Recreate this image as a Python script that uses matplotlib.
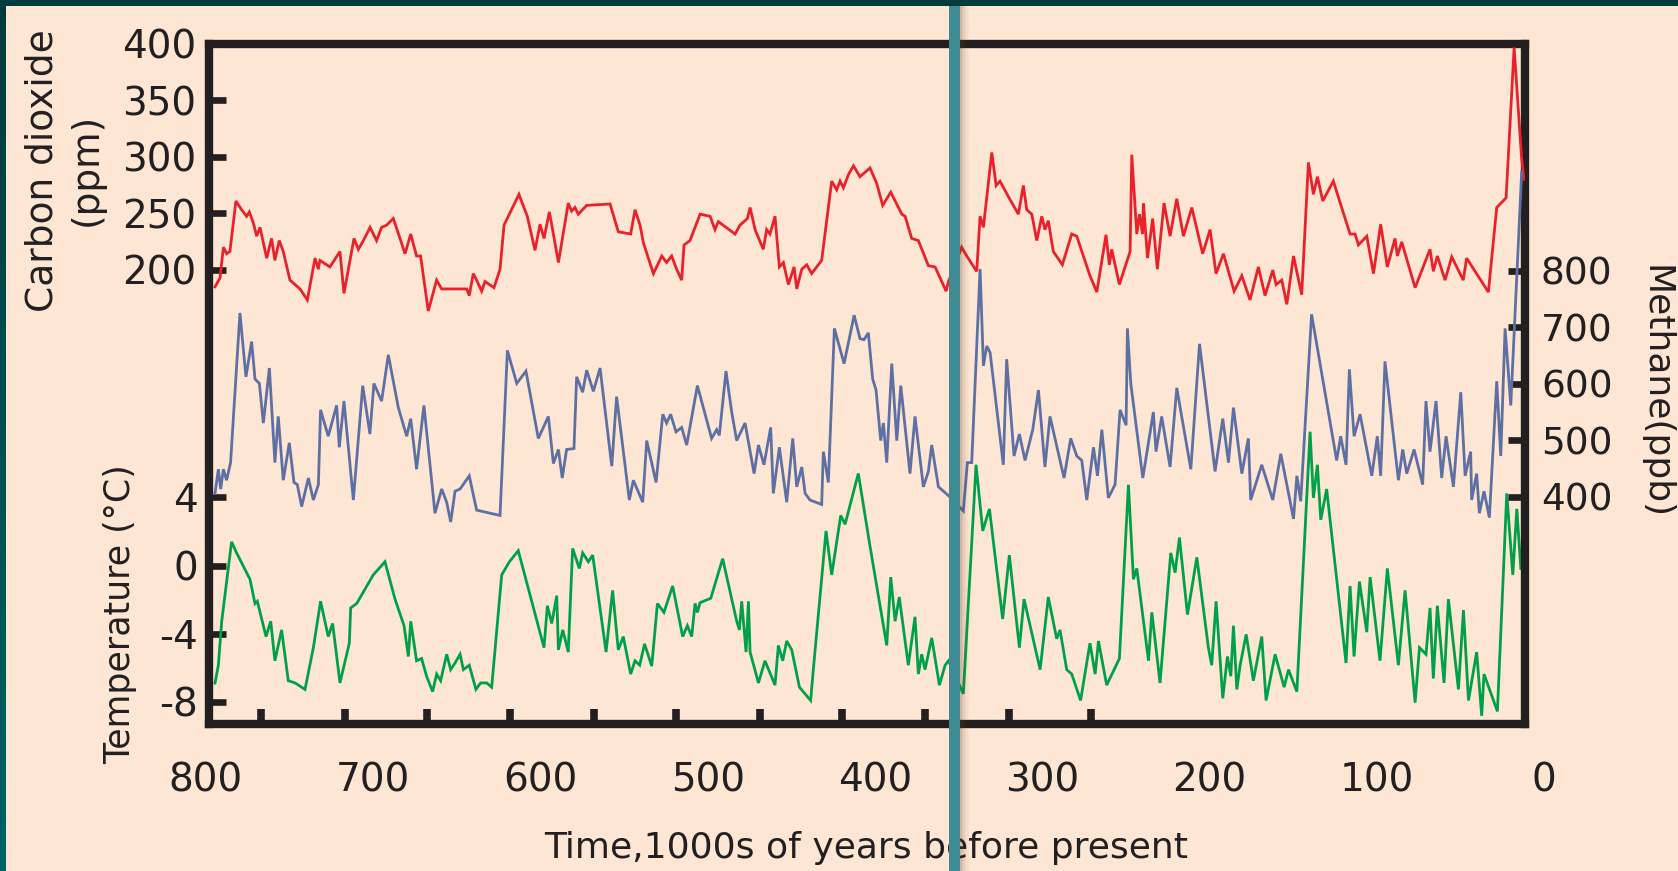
import matplotlib
matplotlib.use('Agg')
import matplotlib.pyplot as plt
from matplotlib.patches import Rectangle
from matplotlib.colors import LinearSegmentedColormap
import numpy as np

# ---------------- data ----------------
co2_age = [794.6, 791.6, 789.6, 787.7, 785.7, 782.1, 778.7, 775.7, 774.1, 771.7, 769.7, 767.7,
           763.7, 760.8, 758.8, 756.2, 753.8, 749.8, 743.8, 739.4, 734.8, 732.8, 731.9, 725.9,
           719.9, 717.5, 711.5, 708.9, 705.9, 701.9, 698.0, 695.0, 692.0, 688.0, 684.0, 681.0,
           677.6, 674.1, 671.7, 667.1, 662.1, 659.1, 644.1, 642.6, 640.2, 638.2, 635.2, 633.2,
           627.8, 624.2, 621.8, 612.9, 607.9, 603.3, 600.3, 597.9, 594.7, 592.3, 589.3, 583.4,
           581.4, 579.4, 577.4, 572.4, 558.4, 553.5, 546.1, 543.5, 540.5, 538.5, 532.5, 527.5,
           524.6, 521.6, 518.6, 515.6, 514.2, 510.6, 504.6, 498.6, 495.7, 493.7, 483.7, 480.7,
           476.3, 474.7, 471.7, 466.8, 464.8, 462.8, 459.8, 457.2, 454.8, 451.8, 448.4, 446.8,
           443.8, 440.8, 437.9, 431.9, 425.9, 422.9, 420.9, 418.9, 415.9, 412.9, 409.0, 403.0,
           399.0, 395.4, 390.6, 384.0, 382.0, 378.1, 374.1, 368.1, 364.1, 357.5, 356.1, 348.2,
           345.2, 339.2, 337.2, 335.2, 330.2, 327.6, 325.3, 320.3, 314.3, 311.3, 309.3, 306.3,
           303.3, 300.3, 298.4, 296.4, 293.4, 288.0, 282.4, 279.4, 271.5, 267.4, 261.9, 259.9,
           258.5, 253.9, 247.5, 246.5, 243.5, 241.9, 240.1, 239.5, 237.1, 234.0, 231.2, 227.2,
           223.6, 219.6, 215.6, 210.6, 204.1, 199.7, 196.1, 191.7, 185.3, 180.7, 175.8, 170.8,
           166.8, 162.2, 160.2, 156.8, 153.8, 149.8, 144.9, 140.9, 137.9, 135.5, 132.3, 126.0,
           116.0, 113.0, 111.0, 106.0, 102.0, 97.7, 93.7, 89.1, 87.7, 85.1, 77.1, 68.2,
           66.2, 63.8, 59.2, 55.2, 48.3, 46.3, 33.3, 28.3, 22.7, 17.9, 13.5, 12.0]
co2_ppm = [184.7, 192.5, 219.8, 214.0, 216.0, 260.8, 253.0, 247.2, 251.1, 241.3, 229.6, 237.4,
           210.1, 227.6, 208.1, 225.7, 216.0, 190.6, 182.8, 173.0, 210.1, 200.3, 208.1, 202.3,
           216.0, 178.9, 227.6, 217.9, 225.7, 237.4, 225.7, 237.4, 239.4, 245.2, 227.6, 214.0,
           231.5, 212.0, 212.0, 163.2, 190.6, 182.8, 182.8, 176.9, 196.4, 190.6, 180.8, 189.4,
           183.9, 200.3, 239.4, 266.7, 247.2, 217.1, 240.1, 227.6, 251.1, 231.5, 206.2, 258.9,
           251.8, 255.0, 249.1, 256.9, 258.1, 233.5, 231.5, 253.0, 239.4, 223.7, 196.4, 212.0,
           206.2, 212.0, 200.3, 190.6, 221.8, 225.7, 249.1, 247.2, 235.4, 242.5, 231.5, 239.4,
           245.2, 255.0, 235.4, 217.9, 235.4, 231.5, 247.2, 202.3, 206.2, 186.7, 202.3, 182.8,
           200.3, 204.2, 196.4, 208.1, 278.4, 270.6, 278.4, 272.5, 284.2, 292.0, 282.3, 290.1,
           276.4, 256.9, 268.6, 249.1, 247.2, 227.6, 225.7, 203.4, 202.3, 180.8, 189.4, 219.8,
           212.0, 198.4, 247.2, 237.4, 303.8, 274.5, 278.4, 264.7, 249.1, 274.5, 253.0, 249.1,
           225.7, 247.2, 235.4, 243.3, 216.0, 204.2, 231.5, 229.6, 194.5, 180.0, 230.8, 204.2,
           217.9, 186.7, 216.0, 301.8, 231.5, 249.1, 231.5, 258.9, 210.1, 245.2, 200.3, 258.9,
           229.6, 262.8, 229.6, 255.0, 214.0, 235.4, 196.4, 214.0, 180.8, 194.5, 173.0, 202.3,
           176.9, 199.5, 186.7, 190.6, 169.1, 212.0, 177.7, 295.0, 266.7, 282.3, 260.8, 278.4,
           231.5, 231.5, 221.8, 229.6, 196.4, 240.1, 202.3, 227.6, 212.0, 224.5, 183.9, 217.9,
           198.4, 212.0, 190.6, 211.2, 190.6, 210.1, 180.0, 255.0, 263.6, 397.0, 300.0, 280.0]

ch4_age = [794.6, 792.6, 791.2, 789.6, 787.7, 785.3, 779.7, 776.1, 772.7, 770.7, 768.1, 765.7,
           762.1, 758.8, 756.8, 753.8, 750.2, 747.4, 745.4, 742.8, 738.8, 735.8, 732.8, 731.5,
           726.9, 721.9, 720.3, 717.5, 711.9, 706.3, 702.0, 699.6, 695.0, 691.0, 685.0, 680.0,
           677.6, 674.1, 669.7, 663.1, 659.1, 656.1, 653.7, 651.1, 648.1, 642.6, 638.2, 624.2,
           619.8, 614.2, 608.7, 601.3, 595.3, 592.3, 589.3, 587.0, 584.4, 580.0, 578.4, 574.8,
           572.4, 568.4, 564.4, 557.4, 554.5, 546.9, 544.5, 538.9, 536.5, 530.9, 526.9, 524.6,
           522.2, 519.0, 515.6, 512.6, 506.2, 497.7, 494.7, 493.1, 489.1, 485.7, 482.7, 477.7,
           472.3, 469.7, 466.4, 462.4, 460.8, 457.2, 452.8, 449.2, 446.8, 443.8, 441.8, 438.9,
           431.9, 430.9, 427.9, 424.3, 418.5, 412.5, 409.0, 406.6, 404.0, 401.4, 399.4, 396.6,
           395.0, 393.0, 390.0, 387.0, 384.6, 379.1, 376.1, 371.1, 368.1, 366.1, 362.1, 356.1,
           347.2, 344.8, 342.2, 337.2, 335.2, 333.2, 331.2, 323.3, 321.3, 316.9, 313.7, 310.3,
           305.7, 302.3, 298.4, 295.4, 287.0, 283.0, 279.4, 276.4, 273.4, 269.4, 267.0, 264.4,
           260.5, 256.5, 253.5, 249.9, 249.1, 247.1, 239.9, 233.6, 232.0, 228.6, 223.6, 219.6,
           211.2, 206.0, 196.7, 192.1, 188.7, 185.7, 180.7, 176.8, 175.4, 168.8, 162.2, 157.4,
           149.8, 147.8, 145.5, 139.0, 124.0, 121.6, 118.4, 116.4, 113.6, 110.0, 103.0, 99.7,
           97.7, 95.1, 87.1, 84.5, 82.1, 77.7, 72.6, 70.6, 68.2, 64.6, 61.2, 58.6,
           54.2, 49.8, 47.2, 43.9, 43.3, 40.3, 38.7, 35.9, 32.7, 28.3, 25.9, 23.3,
           19.9, 13.4]
ch4_ppb = [405.6, 448.5, 413.4, 448.5, 429.0, 460.2, 725.3, 612.2, 674.6, 608.3, 600.5, 530.3,
           627.8, 460.2, 542.0, 429.0, 495.2, 425.1, 421.2, 382.2, 432.9, 393.9, 421.2, 553.7,
           507.0, 561.5, 487.4, 569.3, 393.9, 596.6, 510.8, 600.5, 569.3, 651.2, 557.6, 507.0,
           538.1, 448.5, 561.5, 370.5, 413.4, 390.0, 354.9, 409.5, 413.4, 436.8, 376.0, 366.6,
           659.0, 600.5, 622.3, 503.1, 542.0, 458.6, 483.5, 432.9, 483.5, 485.1, 612.2, 584.9,
           623.9, 586.5, 627.8, 453.9, 577.1, 393.9, 429.0, 390.0, 499.2, 425.1, 545.9, 530.3,
           545.9, 514.7, 522.5, 491.3, 596.6, 503.1, 518.6, 508.5, 622.3, 549.8, 499.2, 530.3,
           440.7, 491.3, 456.3, 522.5, 405.6, 487.4, 390.0, 503.1, 417.3, 452.4, 405.6, 393.9,
           386.1, 479.6, 425.1, 698.0, 635.6, 721.4, 680.0, 678.0, 690.0, 608.3, 588.8, 499.2,
           530.3, 460.2, 635.6, 499.2, 596.6, 440.7, 542.0, 417.3, 444.6, 491.3, 417.3, 401.7,
           374.4, 460.2, 460.2, 803.2, 631.7, 666.8, 655.1, 456.3, 643.4, 471.9, 510.8, 464.1,
           518.6, 588.8, 452.4, 542.0, 432.9, 503.1, 471.9, 464.1, 393.9, 487.4, 436.8, 518.6,
           397.8, 421.2, 553.7, 526.4, 698.0, 600.5, 432.9, 549.8, 479.6, 542.0, 452.4, 592.7,
           448.5, 670.7, 444.6, 538.1, 460.2, 557.6, 440.7, 503.1, 393.9, 456.3, 393.9, 475.8,
           360.5, 436.8, 391.6, 723.0, 464.1, 506.9, 456.3, 625.5, 506.9, 545.9, 436.8, 506.9,
           436.8, 639.5, 429.0, 483.5, 440.7, 483.5, 421.2, 569.3, 479.6, 569.3, 432.9, 506.9,
           417.3, 584.9, 436.8, 479.6, 393.9, 440.7, 370.5, 409.5, 362.7, 604.4, 471.9, 698.0,
           561.5, 975.0]

temp_age = [794.6, 792.6, 790.6, 784.7, 781.7, 777.7, 773.7, 770.7, 769.3, 764.1, 761.3, 758.8,
            754.8, 750.8, 746.8, 740.8, 735.8, 731.5, 726.9, 724.3, 719.9, 714.3, 713.5, 709.9,
            700.0, 693.0, 687.0, 681.6, 679.0, 677.6, 674.1, 671.1, 668.1, 664.5, 662.1, 659.7,
            656.1, 653.7, 651.1, 648.1, 646.1, 642.6, 638.6, 635.8, 632.2, 629.2, 623.2, 618.6,
            613.3, 597.9, 595.9, 593.3, 590.3, 589.3, 586.7, 583.4, 580.8, 576.8, 574.8, 571.4,
            568.8, 560.8, 556.9, 553.5, 550.5, 546.1, 543.5, 540.7, 537.8, 533.5, 530.1, 526.2,
            521.0, 515.0, 512.2, 509.6, 507.6, 506.2, 504.6, 498.2, 491.1, 482.7, 481.1, 479.7,
            477.1, 475.7, 474.7, 469.7, 465.8, 459.8, 457.8, 455.2, 452.8, 449.8, 445.2, 438.5,
            436.9, 429.3, 425.9, 420.5, 417.9, 410.0, 403.0, 393.0, 390.6, 388.0, 385.5, 380.1,
            376.1, 374.1, 372.1, 370.1, 366.1, 361.5, 358.1, 356.1, 347.2, 339.6, 335.6, 331.6,
            323.7, 319.7, 313.7, 310.9, 301.3, 296.4, 291.4, 289.4, 285.4, 282.4, 277.1, 271.5,
            268.4, 266.4, 261.5, 253.9, 248.5, 245.5, 243.5, 236.5, 234.5, 229.6, 223.2, 220.6,
            218.0, 213.2, 207.6, 200.7, 198.7, 196.1, 192.1, 189.3, 187.3, 185.7, 183.7, 181.7,
            178.1, 173.8, 168.8, 166.2, 160.8, 155.4, 152.8, 147.8, 139.9, 137.9, 135.5, 133.5,
            130.0, 118.4, 116.0, 113.6, 110.4, 106.0, 104.0, 98.1, 93.7, 87.1, 83.1, 77.1,
            74.5, 70.6, 68.2, 66.2, 63.8, 59.8, 57.2, 51.2, 48.2, 45.2, 40.3, 37.3,
            35.9, 27.9, 22.3, 18.7, 16.3, 13.9]
temp_c = [-6.90, -5.85, -3.27, 1.39, 0.74, -0.04, -0.81, -2.23, -2.10, -4.17, -3.27, -5.59,
          -3.78, -6.76, -6.89, -7.27, -4.82, -2.10, -4.17, -3.40, -6.89, -4.56, -2.49, -2.23,
          -0.55, 0.22, -1.97, -3.53, -5.34, -3.27, -5.59, -5.46, -6.50, -7.40, -6.37, -6.76,
          -5.21, -6.11, -5.72, -5.21, -6.11, -5.85, -7.27, -6.89, -6.89, -7.14, -0.55, 0.22,
          0.87, -4.82, -2.36, -3.40, -1.77, -4.95, -3.78, -5.08, 1.00, -0.17, 0.74, 0.22,
          0.61, -5.08, -1.46, -4.95, -4.17, -6.37, -5.59, -5.85, -4.60, -5.90, -2.23, -2.75,
          -1.20, -4.17, -3.53, -4.17, -2.23, -2.75, -2.18, -1.92, 0.40, -3.27, -3.78, -2.10,
          -5.08, -2.10, -5.08, -6.89, -5.59, -7.02, -4.69, -5.59, -4.43, -4.95, -7.14, -7.92,
          -6.11, 2.03, -0.55, 2.94, 2.42, 5.40, 1.13, -4.69, -0.68, -3.27, -1.85, -5.85,
          -3.01, -6.37, -5.21, -6.11, -4.25, -7.02, -5.85, -5.59, -7.53, 5.91, 2.03, 3.32,
          -3.14, 0.61, -4.82, -1.97, -6.11, -1.85, -4.30, -3.78, -6.11, -6.37, -7.92, -4.56,
          -6.37, -4.43, -7.02, -5.46, 4.74, -0.81, -0.17, -5.59, -2.75, -6.89, 0.74, -0.42,
          1.64, -2.88, 0.48, -4.82, -5.85, -2.10, -7.79, -5.34, -6.50, -3.53, -7.27, -5.85,
          -4.04, -6.76, -4.17, -7.92, -5.21, -7.14, -6.11, -7.40, 7.85, 3.97, 5.91, 2.68,
          4.49, -5.72, -1.20, -5.34, -0.94, -3.91, -0.68, -5.59, -0.17, -5.85, -1.46, -8.05,
          -4.82, -5.21, -2.49, -6.63, -2.36, -6.89, -1.97, -7.27, -2.62, -7.92, -5.08, -8.82,
          -6.37, -8.56, 4.23, -0.55, 3.32, -0.17]

x_labels = [800, 700, 600, 500, 400, 300, 200, 100, 0]
x_ticks = [767, 717, 668, 618, 568, 519, 469, 420, 370, 320, 271]
co2_ticks = [400, 350, 300, 250, 200]
ch4_ticks = [800, 700, 600, 500, 400]
temp_ticks = [4, 0, -4, -8]

# ---------------- styling ----------------
W, H = 1678, 871
BG = '#fde6d4'
INK = '#231f20'
RED = '#e8212b'
BLUE = '#5e6fa3'
GREEN = '#00a04b'
plt.rcParams['font.family'] = ['DejaVu Sans']

fig = plt.figure(figsize=(W / 100, H / 100), dpi=100)
fig.patch.set_facecolor(BG)

L, R, T, B = 209, 1525, 44, 724
ax = fig.add_axes([L / W, 1 - B / H, (R - L) / W, (B - T) / H])
ax.set_facecolor('none')
ax.set_xlim(798.2, 11.4)
ax.set_ylim(-9.3, 30.6)
axc = ax.twinx()
axc.set_ylim(-203, 400)
axm = ax.twinx()
axm.set_ylim(-3, 1202)

for a in (axc, axm):
    for s in a.spines.values():
        s.set_visible(False)
for s in ax.spines.values():
    s.set_linewidth(6.0)
    s.set_color(INK)
    s.set_capstyle('projecting')

# temperature (left, lower)
ax.set_yticks(temp_ticks)
ax.set_yticklabels([str(v) for v in temp_ticks])
ax.tick_params(axis='y', which='both', direction='in', length=12.5, width=4.8, pad=8,
               labelsize=28, colors=INK, left=True, right=False, labelleft=True, labelright=False)
ax.set_xticks(x_ticks)
ax.tick_params(axis='x', which='both', direction='in', length=11, width=5.5,
               bottom=True, top=False, labelbottom=False, colors=INK)

# CO2 (left, upper)
axc.yaxis.set_ticks_position('left')
axc.set_yticks(co2_ticks)
axc.set_yticklabels([str(v) for v in co2_ticks])
axc.tick_params(axis='y', direction='in', length=12.5, width=4.8, pad=9.4, labelsize=28,
                colors=INK, left=True, right=False, labelleft=True, labelright=False)

# methane (right)
axm.yaxis.set_ticks_position('right')
axm.set_yticks(ch4_ticks)
axm.set_yticklabels([str(v) for v in ch4_ticks])
axm.tick_params(axis='y', direction='in', length=12.5, width=4.8, pad=11.5, labelsize=27,
                colors=INK, left=False, right=True, labelleft=False, labelright=True)

ax.plot(temp_age, temp_c, color=GREEN, lw=2.0, solid_joinstyle='miter')
axm.plot(ch4_age, ch4_ppb, color=BLUE, lw=2.0, solid_joinstyle='miter')
axc.plot(co2_age, co2_ppm, color=RED, lw=2.0, solid_joinstyle='miter')

# x labels (0 sits beyond the frame, as in the original)
for v in x_labels:
    ax.text(v, -67.5 / (B - T), str(v), transform=ax.get_xaxis_transform(),
            ha='center', va='baseline', fontsize=28, color=INK, clip_on=False)

fig.text(866 / W, 1 - 858 / H, 'Time,1000s of years before present', ha='center',
         va='baseline', fontsize=26, color=INK)
fig.text(43 / W, 1 - 171 / H, 'Carbon dioxide', rotation=90, ha='center', va='center',
         fontsize=27, color=INK)
fig.text(87 / W, 1 - 169 / H, '(ppm)', rotation=90, ha='center', va='center',
         fontsize=27, color=INK)
fig.text(120 / W, 1 - 614 / H, 'Temperature (°C)', rotation=90, ha='center', va='center',
         fontsize=25, color=INK)
fig.text(1655 / W, 1 - 392 / H, 'Methane(ppb)', rotation=270, ha='center', va='center',
         fontsize=26, color=INK)

# slide decorations: dark top strip, teal left strip, teal divider bar with shadow
fig.add_artist(Rectangle((0, 1 - 6 / H), 1, 6 / H, transform=fig.transFigure,
                         facecolor='#013b3c', edgecolor='none', zorder=20))
cax = fig.add_axes([0, 0, 6 / W, 1 - 6 / H], zorder=20)
cmap = LinearSegmentedColormap.from_list('edge', ['#013b3c', '#006363'])
cax.imshow(np.linspace(0, 1, 256).reshape(-1, 1), aspect='auto', cmap=cmap)
cax.set_axis_off()

for i, al in enumerate([0.28, 0.2, 0.14, 0.09, 0.05, 0.025]):
    fig.add_artist(Rectangle(((960 + i * 1.5) / W, 0), 1.5 / W, 1 - 6 / H,
                             transform=fig.transFigure, facecolor='#5a3a20', alpha=al,
                             edgecolor='none', zorder=19))
fig.add_artist(Rectangle((949 / W, 0), 11 / W, 1 - 6 / H, transform=fig.transFigure,
                         facecolor='#3e8b93', edgecolor='none', zorder=21))

fig.savefig('out.png', dpi=100, facecolor=BG)
